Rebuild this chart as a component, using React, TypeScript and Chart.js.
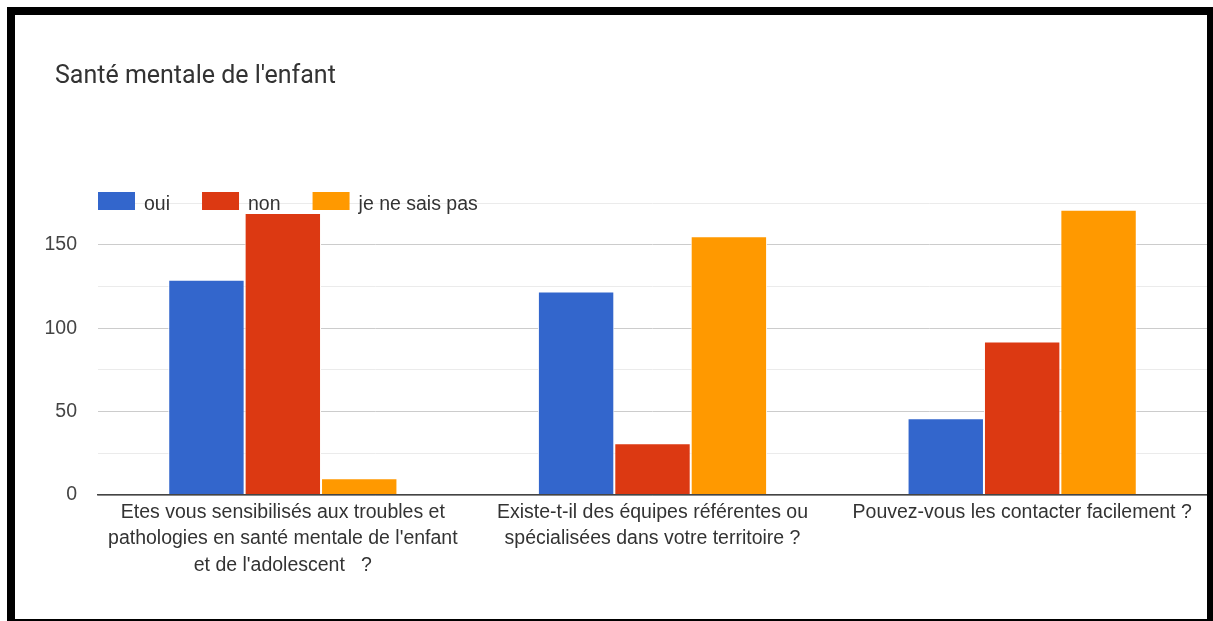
import React, { useEffect, useRef } from "react";
import { Chart, registerables } from "chart.js";

Chart.register(...registerables);

const chartTitle = "Santé mentale de l'enfant";
const categories: string[][] = [
  ["Etes vous sensibilisés aux troubles et", "pathologies en santé mentale de l'enfant", "et de l'adolescent   ?"],
  ["Existe-t-il des équipes référentes ou", "spécialisées dans votre territoire ?"],
  ["Pouvez-vous les contacter facilement ?"],
];
const seriesNames = ["oui", "non", "je ne sais pas"];
const ouiValues = [129, 122, 46];
const nonValues = [169, 31, 92];
const nspValues = [10, 155, 171];
const seriesColors = ["#3366cc", "#dc3912", "#ff9900"];
const yLabelledTicks = [0, 50, 100, 150];
const yMax = 175;
const yStep = 25;

const ARIAL = '"Liberation Sans", Arial, sans-serif';

const overlayPlugin = {
  id: "overlay",
  afterDraw(chart: any) {
    const { ctx, chartArea } = chart;
    ctx.save();
    // title
    ctx.font = '25px Roboto, "Noto Sans", sans-serif';
    ctx.fillStyle = "#333333";
    ctx.textAlign = "left";
    ctx.textBaseline = "alphabetic";
    ctx.fillText(chartTitle, 40, 68);
    // legend
    ctx.font = `19.5px ${ARIAL}`;
    let x = chartArea.left;
    const top = chartArea.top;
    chart.data.datasets.forEach((ds: any) => {
      ctx.fillStyle = ds.backgroundColor;
      ctx.fillRect(x, top - 11, 37, 18);
      x += 37 + 9;
      ctx.fillStyle = "#333333";
      ctx.fillText(ds.label, x, top + 6.5);
      x += ctx.measureText(ds.label).width + 32;
    });
    ctx.restore();
  },
};

export default function App() {
  const ref = useRef<HTMLCanvasElement>(null);
  useEffect(() => {
    const values = [ouiValues, nonValues, nspValues];
    const chart = new Chart(ref.current as HTMLCanvasElement, {
      type: "bar",
      data: {
        labels: categories,
        datasets: seriesNames.map((name, i) => ({
          label: name,
          data: values[i],
          backgroundColor: seriesColors[i],
          borderColor: "#ffffff",
          borderWidth: 1,
          borderSkipped: "start",
          categoryPercentage: 0.62,
          barPercentage: 1,
        })),
      },
      options: {
        animation: false,
        responsive: false,
        maintainAspectRatio: false,
        layout: { padding: { top: 188, left: 0, right: 0, bottom: 0 } },
        plugins: {
          legend: { display: false },
          title: { display: false },
          tooltip: { enabled: false },
        },
        scales: {
          x: {
            grid: { display: false, drawTicks: false },
            border: { display: true, color: "#444444", width: 1.5, z: 1 },
            ticks: {
              color: "#333333",
              font: { family: ARIAL, size: 19.5, lineHeight: 1.36 },
              padding: 4,
              maxRotation: 0,
              minRotation: 0,
              autoSkip: false,
            },
            afterFit: (s: any) => {
              s.height = 124;
            },
          },
          y: {
            min: 0,
            max: yMax,
            grid: {
              drawTicks: false,
              color: (c: any) =>
                yLabelledTicks.includes(c.tick?.value) ? "#cccccc" : "#ebebeb",
              lineWidth: 1,
            },
            border: { display: false },
            ticks: {
              stepSize: yStep,
              color: "#444444",
              font: { family: ARIAL, size: 19.5 },
              padding: 21,
              callback: (v: any) => (yLabelledTicks.includes(Number(v)) ? String(v) : ""),
            },
            afterFit: (s: any) => {
              s.width = 83;
            },
          },
        },
      },
      plugins: [overlayPlugin],
    } as any);
    return () => chart.destroy();
  }, []);

  return (
    <div style={{ position: "fixed", left: 7, top: 7, width: 1206, height: 614, background: "#000" }}>
      <div style={{ position: "absolute", left: 8, top: 8, width: 1192, height: 604, background: "#fff" }}>
        <canvas ref={ref} width={1192} height={604} style={{ display: "block", width: 1192, height: 604 }} />
      </div>
    </div>
  );
}
